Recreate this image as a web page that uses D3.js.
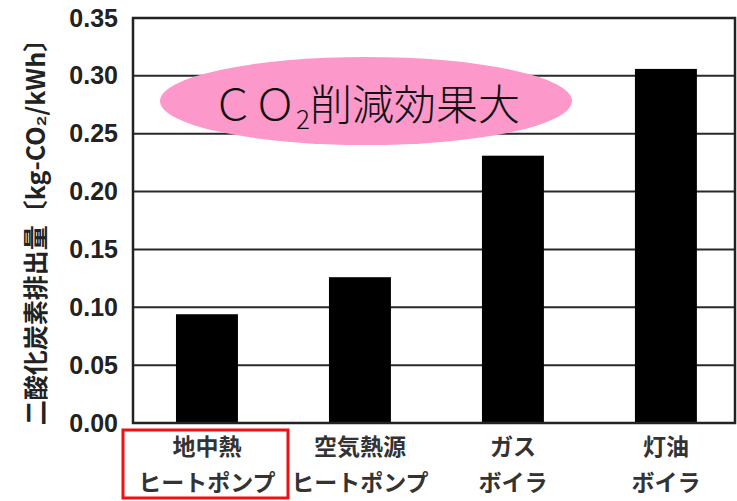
<!DOCTYPE html>
<html><head><meta charset="utf-8">
<script src="https://cdn.jsdelivr.net/npm/d3@7"></script>
<style>html,body{margin:0;padding:0;background:#fff;}svg{display:block;}</style>
</head><body>
<script>
const categoriesLine1 = ["地中熱", "空気熱源", "ガス", "灯油"];
const categoriesLine2 = ["ヒートポンプ", "ヒートポンプ", "ボイラ", "ボイラ"];
const values = [0.094, 0.126, 0.231, 0.306];
const yTicks = [0, 0.05, 0.10, 0.15, 0.20, 0.25, 0.30, 0.35];
const yTitle = "二酸化炭素排出量〔kg-CO₂/kWh〕";

const W = 737, H = 501;
const m = {left: 133, right: 2, top: 18, bottom: 78};
const svg = d3.select("body").append("svg").attr("width", W).attr("height", H);

const x = d3.scaleBand().domain(d3.range(values.length))
  .range([m.left, W - m.right]).paddingInner(0.595).paddingOuter(0.265).align(0.53);
const y = d3.scaleLinear().domain([0, 0.35]).range([H - m.bottom, m.top]);

// gridlines
svg.append("g").selectAll("line").data(yTicks).join("line")
  .attr("x1", m.left).attr("x2", W - m.right)
  .attr("y1", d => y(d)).attr("y2", d => y(d))
  .attr("stroke", "#2a2a2a").attr("stroke-width", 2);

// bars
svg.append("g").selectAll("rect").data(values).join("rect")
  .attr("x", (d, i) => x(i)).attr("width", x.bandwidth())
  .attr("y", d => y(d)).attr("height", d => y(0) - y(d))
  .attr("fill", "#000");

// frame
svg.append("rect").attr("x", m.left).attr("y", m.top)
  .attr("width", W - m.right - m.left).attr("height", y(0) - m.top)
  .attr("fill", "none").attr("stroke", "#222").attr("stroke-width", 2.5);

// y axis tick labels
const yAxis = d3.axisLeft(y).tickValues(yTicks).tickFormat(d3.format(".2f")).tickSize(0).tickPadding(15);
const ga = svg.append("g").attr("transform", `translate(${m.left},0)`).call(yAxis);
ga.select(".domain").remove();
ga.selectAll("text").attr("font-family", "Liberation Sans, Arial, sans-serif")
  .attr("font-weight", "bold").attr("font-size", 25).attr("fill", "#222");

// y title
svg.append("text").attr("transform", "translate(45,226) rotate(-90)")
  .attr("text-anchor", "middle")
  .attr("font-family", "Noto Sans CJK JP, sans-serif").attr("font-weight", "bold")
  .attr("font-size", 25).attr("fill", "#222").text(yTitle);

// category labels
const lab = svg.append("g").attr("font-family", "Noto Sans CJK JP, sans-serif")
  .attr("font-weight", "bold").attr("font-size", 23).attr("fill", "#333").attr("text-anchor", "middle");
lab.selectAll("text.l1").data(categoriesLine1).join("text").attr("class", "l1")
  .attr("x", (d, i) => x(i) + x.bandwidth() / 2).attr("y", 455).text(d => d);
lab.selectAll("text.l2").data(categoriesLine2).join("text").attr("class", "l2")
  .attr("x", (d, i) => x(i) + x.bandwidth() / 2).attr("y", 491).text(d => d);

// red highlight box
svg.append("rect").attr("x", 123).attr("y", 430).attr("width", 165).attr("height", 68)
  .attr("fill", "none").attr("stroke", "#ee1111").attr("stroke-width", 3);

// ellipse callout
svg.append("ellipse").attr("cx", 366).attr("cy", 101).attr("rx", 206).attr("ry", 44)
  .attr("fill", "#fd98ca");
const t = svg.append("text").attr("x", 366).attr("y", 120).attr("text-anchor", "middle")
  .attr("font-family", "Noto Sans CJK JP, sans-serif").attr("font-weight", 300)
  .attr("font-size", 42).attr("fill", "#111");
t.append("tspan").text("ＣＯ");
t.append("tspan").attr("font-size", 26).attr("dy", 9).text("2");
t.append("tspan").attr("dy", -9).text("削減効果大");
</script>
</body></html>
